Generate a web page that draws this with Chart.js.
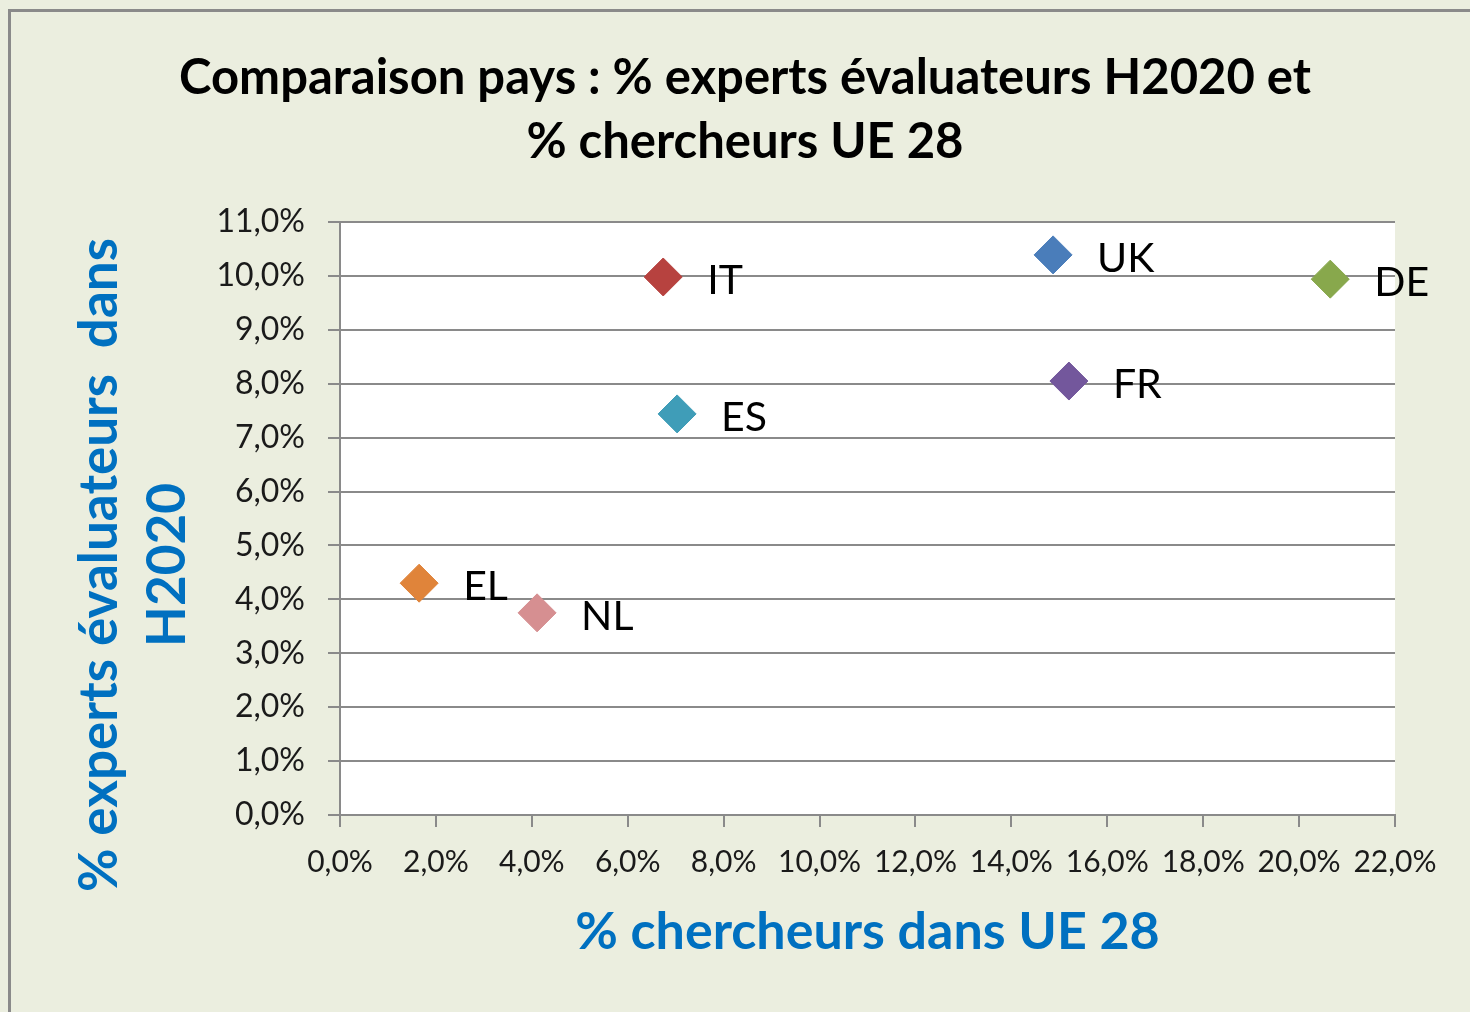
<!DOCTYPE html>
<html>
<head>
<meta charset="utf-8">
<script src="https://cdn.jsdelivr.net/npm/chart.js@4"></script>
<style>
html,body{margin:0;padding:0;background:#ffffff;}
#wrap{width:1470px;height:1012px;position:relative;}
</style>
</head>
<body>
<div id="wrap"><canvas id="c" width="1470" height="1012"></canvas></div>
<script>
const countries = ['UK', 'IT', 'DE', 'FR', 'ES', 'EL', 'NL'];
const researchersPct = [14.87, 6.74, 20.65, 15.20, 7.03, 1.65, 4.11];
const expertsPct = [10.39, 9.98, 9.94, 8.05, 7.44, 4.30, 3.75];
const pointColors = ['#4A7DBA', '#B7423F', '#88A84C', '#73579C', '#3F9DB8', '#E0843A', '#D68F91'];
const titleLines = ['Comparaison pays : % experts évaluateurs H2020 et', '% chercheurs UE 28'];
const xTitle = '% chercheurs dans UE 28';
const yTitleLines = ['% experts évaluateurs  dans', 'H2020'];

const FONT = 'Lato, "Open Sans", sans-serif';
const BLUE = '#0070C0';
const fmt = v => Number(v).toFixed(1).replace('.', ',') + '%';

const datasets = countries.map((name, i) => ({
  label: name,
  data: [{x: researchersPct[i], y: expertsPct[i]}],
  pointStyle: 'rectRot',
  pointRadius: 19,
  pointHoverRadius: 19,
  backgroundColor: pointColors[i],
  borderColor: pointColors[i],
  borderWidth: 1
}));

const decor = {
  id: 'decor',
  beforeDraw(chart) {
    const ctx = chart.ctx;
    const a = chart.chartArea;
    ctx.save();
    ctx.fillStyle = '#EBEEDF';
    ctx.fillRect(0, 0, chart.width, chart.height);
    ctx.strokeStyle = '#8a8a8a';
    ctx.lineWidth = 3;
    ctx.strokeRect(9.5, 10.5, chart.width + 20, chart.height + 20);
    ctx.fillStyle = '#ffffff';
    ctx.fillRect(a.left, a.top, a.right - a.left, a.bottom - a.top);
    ctx.restore();
  },
  afterDraw(chart) {
    const ctx = chart.ctx;
    const a = chart.chartArea;
    ctx.save();
    // chart title
    ctx.fillStyle = '#000000';
    ctx.font = 'bold 49px ' + FONT;
    ctx.textAlign = 'center';
    ctx.textBaseline = 'middle';
    ctx.fillText(titleLines[0], 745, 78);
    ctx.fillText(titleLines[1], 745, 142);
    // x axis title
    ctx.fillStyle = BLUE;
    ctx.font = 'bold 52px ' + FONT;
    ctx.fillText(xTitle, (a.left + a.right) / 2, 932);
    // y axis title
    ctx.font = 'bold 53px ' + FONT;
    ctx.translate(100, 565);
    ctx.rotate(-Math.PI / 2);
    ctx.fillText(yTitleLines[0], 0, 0);
    ctx.fillText(yTitleLines[1], 0, 68);
    ctx.restore();
    // point labels
    ctx.save();
    ctx.fillStyle = '#000000';
    ctx.font = '41px ' + FONT;
    ctx.textAlign = 'left';
    ctx.textBaseline = 'middle';
    chart.data.datasets.forEach((ds, i) => {
      const el = chart.getDatasetMeta(i).data[0];
      ctx.fillText(ds.label, el.x + 44, el.y + 4);
    });
    ctx.restore();
  }
};

new Chart(document.getElementById('c'), {
  type: 'scatter',
  data: { datasets },
  options: {
    responsive: false,
    animation: false,
    events: [],
    layout: { padding: { left: 0, top: 222, right: 75, bottom: 0 } },
    plugins: {
      legend: { display: false },
      title: { display: false },
      tooltip: { enabled: false }
    },
    scales: {
      x: {
        type: 'linear',
        min: 0, max: 22,
        afterFit(s) { s.height = 197; },
        ticks: {
          stepSize: 2,
          callback: v => fmt(v),
          color: '#1a1a1a',
          font: { family: FONT, size: 30 },
          padding: 17,
          maxRotation: 0,
          autoSkip: false
        },
        grid: {
          drawOnChartArea: false,
          drawTicks: true,
          tickLength: 12,
          color: '#8a8a8a',
          lineWidth: 2
        },
        border: { display: true, color: '#8a8a8a', width: 2 }
      },
      y: {
        type: 'linear',
        min: 0, max: 11,
        afterFit(s) { s.width = 340; },
        ticks: {
          stepSize: 1,
          callback: v => fmt(v),
          color: '#1a1a1a',
          font: { family: FONT, size: 32 },
          padding: 23
        },
        grid: {
          drawOnChartArea: true,
          drawTicks: true,
          tickLength: 12,
          color: '#8a8a8a',
          lineWidth: 2
        },
        border: { display: true, color: '#8a8a8a', width: 2 }
      }
    }
  },
  plugins: [decor]
});
</script>
</body>
</html>
